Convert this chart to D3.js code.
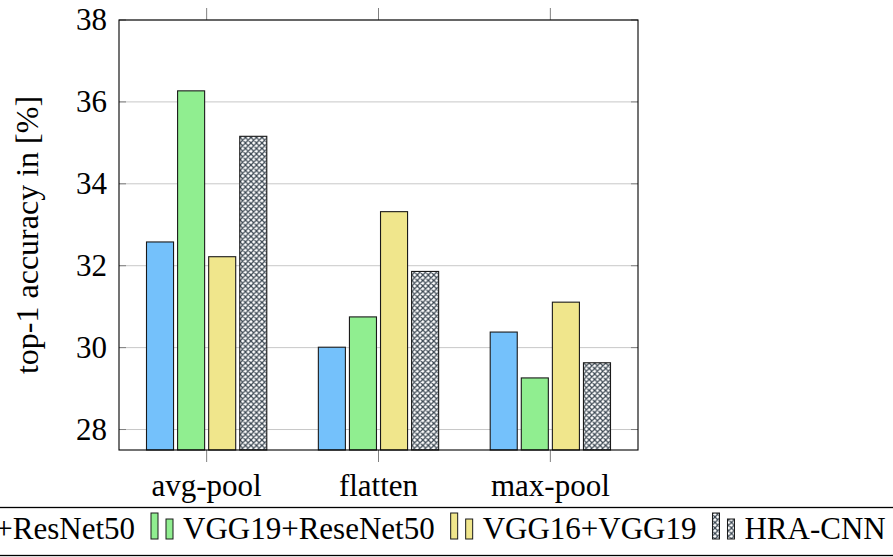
<!DOCTYPE html>
<html>
<head>
<meta charset="utf-8">
<script src="https://cdn.jsdelivr.net/npm/d3@7"></script>
</head>
<body style="margin:0">
<script>
// data
const categories = ["avg-pool", "flatten", "max-pool"];
const seriesNames = ["VGG16+ResNet50", "VGG19+ReseNet50", "VGG16+VGG19", "HRA-CNN"];
const vgg16Resnet50 = [32.58, 30.01, 30.38];
const vgg19Resenet50 = [36.27, 30.75, 29.26];
const vgg16Vgg19 = [32.22, 33.32, 31.11];
const hraCnn = [35.16, 31.86, 29.63];
const yTicks = [28, 30, 32, 34, 36, 38];
const yLabel = "top-1 accuracy in [%]";

const seriesValues = [vgg16Resnet50, vgg19Resenet50, vgg16Vgg19, hraCnn];
const colors = ["#74c1fb", "#90ee90", "#f0e68c", "url(#crosshatch)"];

const width = 893, height = 557;
const margin = { top: 20, right: 255, bottom: 107, left: 119 };
const fs = 31;
const fam = "Liberation Serif";
const fontOf = () => `'${fam}'`;

const svg = d3.select("body").append("svg")
    .attr("width", width)
    .attr("height", height);

// crosshatch pattern for HRA-CNN
const defs = svg.append("defs");
const pat = defs.append("pattern")
    .attr("id", "crosshatch")
    .attr("patternUnits", "userSpaceOnUse")
    .attr("width", 5.5).attr("height", 5.5);
pat.append("rect").attr("width", 5.5).attr("height", 5.5).attr("fill", "#fff");
pat.append("path")
    .attr("d", "M0,0L5.5,5.5M0,5.5L5.5,0M-1,1L1,-1M4.5,6.5L6.5,4.5M-1,4.5L1,6.5M4.5,-1L6.5,1")
    .attr("stroke", "#3b4752").attr("stroke-width", 1.25);

const x0 = d3.scaleBand()
    .domain(categories)
    .range([margin.left, width - margin.right])
    .paddingInner(0.3)
    .paddingOuter(0.16);

const x1 = d3.scaleBand()
    .domain(seriesNames)
    .range([0, x0.bandwidth()])
    .paddingInner(0.13);

const y = d3.scaleLinear()
    .domain([27.5, 38])
    .range([height - margin.bottom, margin.top]);

const plotL = margin.left, plotR = width - margin.right;
const plotT = margin.top, plotB = height - margin.bottom;

// grid lines
svg.append("g").selectAll("line")
    .data(yTicks)
    .join("line")
    .attr("x1", plotL).attr("x2", plotR)
    .attr("y1", d => y(d)).attr("y2", d => y(d))
    .attr("stroke", "#c8c8c8").attr("stroke-width", 1);

// y tick marks, inside on both sides
svg.append("g").selectAll("path")
    .data(yTicks)
    .join("path")
    .attr("d", d => `M${plotL},${y(d)}h7M${plotR},${y(d)}h-7`)
    .attr("stroke", "#808080").attr("stroke-width", 1);

// bars
const groups = svg.append("g").selectAll("g")
    .data(categories)
    .join("g")
    .attr("transform", d => `translate(${x0(d)},0)`);

groups.selectAll("rect")
    .data((c, i) => seriesNames.map((s, j) => ({ s: s, v: seriesValues[j][i], j: j })))
    .join("rect")
    .attr("x", d => x1(d.s))
    .attr("y", d => y(d.v))
    .attr("width", x1.bandwidth())
    .attr("height", d => y.range()[0] - y(d.v))
    .attr("fill", d => colors[d.j])
    .attr("stroke", "#1a1a1a")
    .attr("stroke-width", 1.1);

// x tick marks, outward top and bottom
svg.append("g").selectAll("path")
    .data(categories)
    .join("path")
    .attr("d", d => {
        const cx = x0(d) + x0.bandwidth() / 2;
        return `M${cx},${plotT}v-12M${cx},${plotB}v12`;
    })
    .attr("stroke", "#808080").attr("stroke-width", 1);

// frame
svg.append("rect")
    .attr("x", plotL).attr("y", plotT)
    .attr("width", plotR - plotL).attr("height", plotB - plotT)
    .attr("fill", "none").attr("stroke", "#000").attr("stroke-width", 1.1);

// tick labels
svg.append("g").selectAll("text")
    .data(yTicks)
    .join("text")
    .attr("x", plotL - 12)
    .attr("y", d => y(d) + fs * 0.33)
    .attr("text-anchor", "end")
    .attr("font-size", fs)
    .style("font-family", fontOf)
    .text(d => d);

svg.append("g").selectAll("text")
    .data(categories)
    .join("text")
    .attr("x", d => x0(d) + x0.bandwidth() / 2)
    .attr("y", 496)
    .attr("text-anchor", "middle")
    .attr("font-size", fs)
    .style("font-family", fontOf)
    .text(d => d);

svg.append("text")
    .attr("transform", `translate(38,${(plotT + plotB) / 2}) rotate(-90)`)
    .attr("text-anchor", "middle")
    .attr("font-size", 32)
    .style("font-family", fontOf)
    .text(yLabel);

// legend box, wider than the page so it runs off both sides
const legend = svg.append("g");
legend.append("rect")
    .attr("x", -300).attr("y", 507.5)
    .attr("width", 1500).attr("height", 48)
    .attr("fill", "#fff").attr("stroke", "#000").attr("stroke-width", 1.3);

const baseline = 539;
const items = legend.selectAll("g.item")
    .data(seriesNames)
    .join("g").attr("class", "item");

const labels = items.append("text")
    .attr("y", baseline)
    .attr("font-size", 31)
    .style("font-family", fontOf)
    .text(d => d);

const textW = [];
labels.each(function(d, i) { textW[i] = this.getComputedTextLength(); });

// place so the second icon lands at x=151
const iconW = 32, gapAfter = 16;
const xs = [];
xs[1] = 151;
xs[0] = xs[1] - gapAfter - textW[0] - iconW;
xs[2] = xs[1] + iconW + textW[1] + gapAfter;
xs[3] = xs[2] + iconW + textW[2] + gapAfter;

labels.attr("x", (d, i) => xs[i] + iconW);
items.each(function(d, i) {
    const g = d3.select(this);
    g.append("rect")
        .attr("x", xs[i]).attr("y", baseline - 26)
        .attr("width", 7).attr("height", 26)
        .attr("fill", colors[i]).attr("stroke", "#1a1a1a").attr("stroke-width", 1);
    g.append("rect")
        .attr("x", xs[i] + 15).attr("y", baseline - 20)
        .attr("width", 7).attr("height", 20)
        .attr("fill", colors[i]).attr("stroke", "#1a1a1a").attr("stroke-width", 1);
});
</script>
</body>
</html>
